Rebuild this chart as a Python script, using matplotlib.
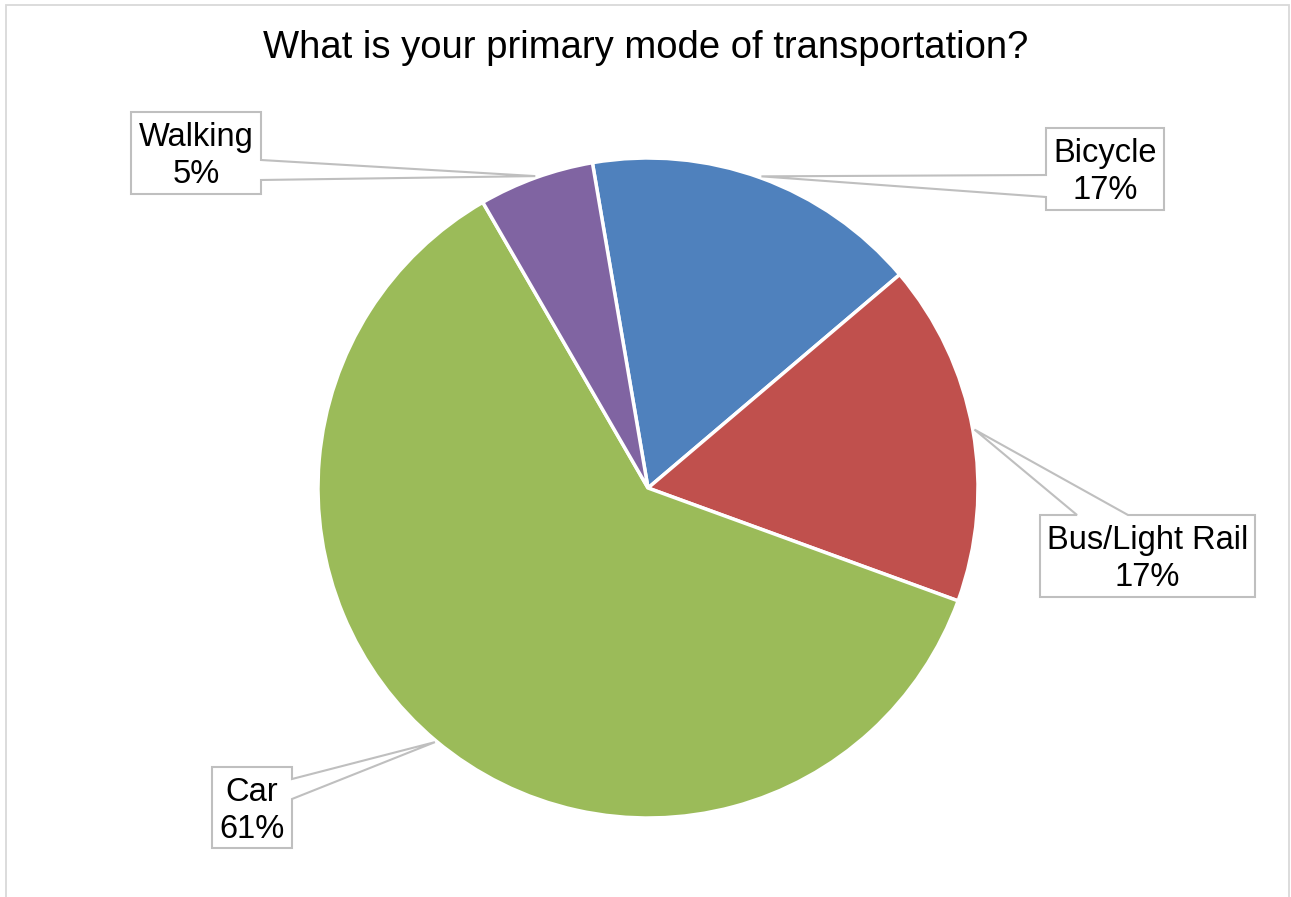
import matplotlib.pyplot as plt
import numpy as np
from matplotlib.patches import Polygon, Rectangle

plt.rcParams['font.family'] = ['Liberation Sans', 'DejaVu Sans']

# data (share of respondents, %)
modes = ['Bicycle', 'Bus/Light Rail', 'Car', 'Walking']
shares = [16.5, 16.75, 61.1, 5.65]
pct_labels = ['17%', '17%', '61%', '5%']
colors = ['#4F81BD', '#C0504D', '#9BBB59', '#8064A2']

W, H = 1291, 897
fig = plt.figure(figsize=(W / 100, H / 100), dpi=100)
ax = fig.add_axes([0, 0, 1, 1])

# chart area border (open at bottom, cut off by the image edge)
ax.add_patch(Rectangle((6, -10), 1283, H - 5 + 10, fill=False,
                       edgecolor='#d9d9d9', linewidth=1.3))

center = (648, H - 488)
radius = 330
wedges, _ = ax.pie(shares, colors=colors, startangle=99.7, counterclock=False,
                   center=center, radius=radius, frame=True,
                   wedgeprops=dict(edgecolor='white', linewidth=2.5))
ax.set_xlim(0, W)
ax.set_ylim(0, H)
ax.set_aspect('equal')
ax.axis('off')

ax.text(646, H - 48, 'What is your primary mode of transportation?',
        ha='center', va='center', fontsize=27.5)

# callout boxes: (left, top, right, bottom) in pixels from top-left, and pointer base
boxes = {
    'Bicycle': ((1046, 128, 1164, 210), 'left', (175, 197)),
    'Bus/Light Rail': ((1040, 515, 1255, 597), 'top', (1077, 1128)),
    'Car': ((212, 767, 292, 848), 'right', (779, 799)),
    'Walking': ((131, 112, 261, 194), 'right', (160, 180)),
}

for w, name, pct in zip(wedges, modes, pct_labels):
    mid = np.deg2rad((w.theta1 + w.theta2) / 2)
    tip = (center[0] + 1.005 * radius * np.cos(mid),
           center[1] + 1.005 * radius * np.sin(mid))
    (l, t, r, b), side, base = boxes[name]
    t, b = H - t, H - b
    if side == 'right':
        pts = [(l, t), (r, t), (r, H - base[0]), tip, (r, H - base[1]), (r, b), (l, b)]
    elif side == 'left':
        pts = [(l, t), (r, t), (r, b), (l, b), (l, H - base[1]), tip, (l, H - base[0])]
    else:
        pts = [(l, t), (base[0], t), tip, (base[1], t), (r, t), (r, b), (l, b)]
    ax.add_patch(Polygon(pts, closed=True, facecolor='white',
                         edgecolor='#bfbfbf', linewidth=1.5, zorder=5))
    ax.text((l + r) / 2, (t + b) / 2 - 3, f'{name}\n{pct}', ha='center', va='center',
            fontsize=23.5, linespacing=1.25, zorder=6)

fig.savefig('out.png', dpi=100)
